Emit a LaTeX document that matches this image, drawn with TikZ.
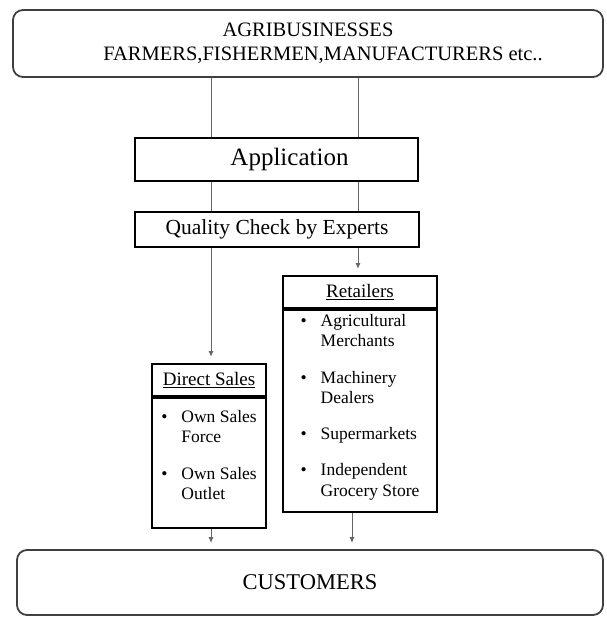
\documentclass[tikz,border=0pt]{standalone}
\usepackage{fontspec}
\setmainfont{Liberation Serif}
\usetikzlibrary{arrows.meta}

\begin{document}
\begin{tikzpicture}[x=1pt, y=-1pt, inner sep=0pt,
  round/.style = {draw=black!75, line width=1.8pt, rounded corners=10pt, align=center},
  main/.style = {draw, line width=2.2pt, align=center},
  head/.style = {main, minimum height=32pt, anchor=north, font=\fontsize{19}{22}\selectfont},
  list/.style = {draw, line width=2.2pt, anchor=north, font=\fontsize{17.5}{20.3}\selectfont},
  link/.style = {draw=black!60, line width=1pt},
  arr/.style = {link, -{Latex[length=6pt,width=5pt]}, shorten >=6pt}]
\useasboundingbox (0,0) rectangle (606,617);
\coordinate (l) at (211,0);
\coordinate (r) at (358,0);
\coordinate (rb) at (352,0);
% boxes
\node[round, minimum width=590pt, minimum height=67pt, font=\fontsize{20.5}{24}\selectfont] (top) at (308,43.5) {AGRIBUSINESSES\\\hspace*{30pt}FARMERS,FISHERMEN,MANUFACTURERS etc..};
\node[main, minimum width=283pt, minimum height=43pt, font=\fontsize{25}{28}\selectfont] (app) at (276.5,159.5) {\hspace*{26pt}Application};
\node[main, minimum width=284pt, minimum height=35pt, font=\fontsize{21.5}{24}\selectfont] (qc) at (277,229.5) {Quality Check by Experts};
\node[head, minimum width=154pt] (ret) at (360,275) {\underline{Retailers}};
\node[list, minimum width=154pt, minimum height=202pt] (retl) at (ret.south) {\begin{tabular}{@{}l@{\hspace{14pt}}l@{}}
  \textbullet & Agricultural\\ & Merchants\\[16pt]
  \textbullet & Machinery\\ & Dealers\\[16pt]
  \textbullet & Supermarkets\\[16pt]
  \textbullet & Independent\\ & Grocery Store\\[8pt]
\end{tabular}};
\node[head, minimum width=114pt] (dir) at (209,363) {\underline{Direct Sales}};
\node[list, minimum width=114pt, minimum height=130pt] (dirl) at (dir.south) {\begin{tabular}{@{}l@{\hspace{14pt}}l@{}}
  \textbullet & Own Sales\\ & Force\\[16pt]
  \textbullet & Own Sales\\ & Outlet\\[13pt]
\end{tabular}};
\node[round, minimum width=586pt, minimum height=65pt, font=\fontsize{22.5}{26}\selectfont] (cust) at (310,582.5) {CUSTOMERS};
% connectors
\draw[link] (top.south -| l) -- (app.north -| l);
\draw[link] (top.south -| r) -- (app.north -| r);
\draw[link] (app.south -| l) -- (qc.north -| l);
\draw[link] (app.south -| r) -- (qc.north -| r);
\draw[arr] (qc.south -| l) -- (dir.north -| l);
\draw[arr] (qc.south -| r) -- (ret.north -| r);
\draw[arr] (dirl.south -| l) -- (cust.north -| l);
\draw[arr] (retl.south -| rb) -- (cust.north -| rb);
\end{tikzpicture}
\end{document}
